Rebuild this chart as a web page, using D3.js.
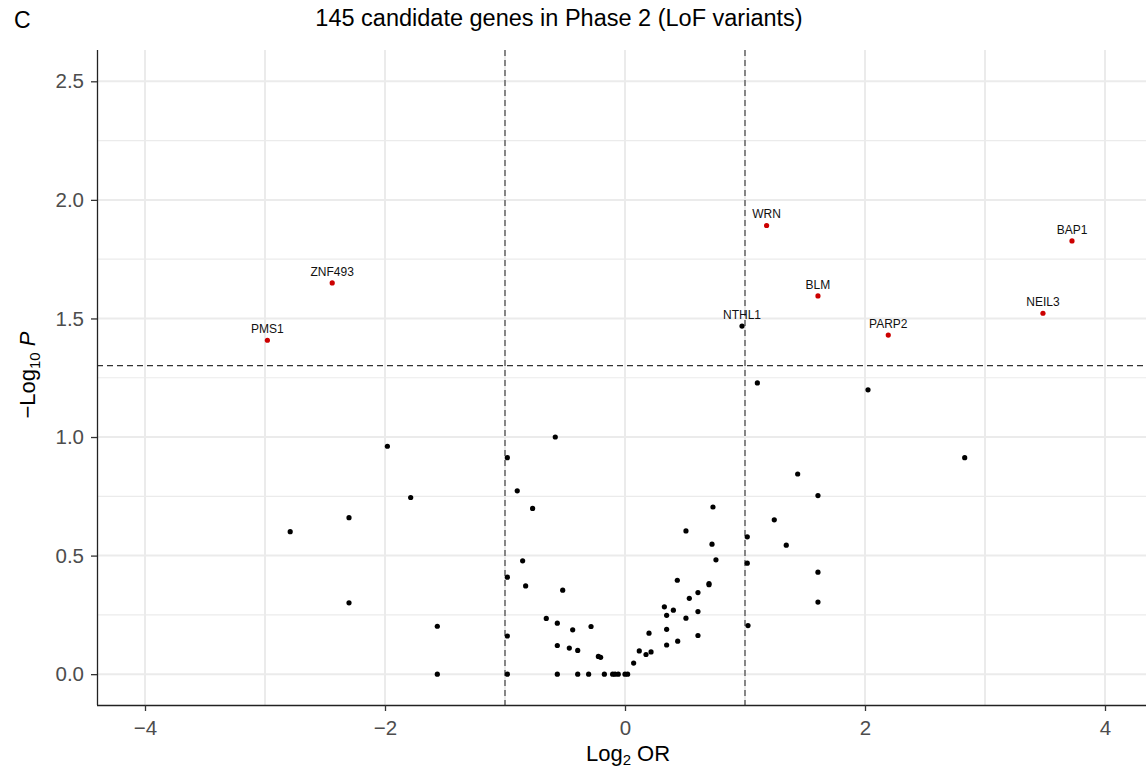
<!DOCTYPE html>
<html>
<head>
<meta charset="utf-8">
<script src="https://cdn.jsdelivr.net/npm/d3@7"></script>
<style>
  body { margin: 0; background: #fff; overflow: hidden; }
  svg { display: block; font-family: "Liberation Sans", Arial, sans-serif; }
</style>
</head>
<body>
<div id="chart"></div>
<script>
// labelled genes (log2 OR, -log10 P)
var labGenes = ["PMS1", "ZNF493", "WRN", "BAP1", "BLM", "NEIL3", "PARP2", "NTHL1"]
var labX = [-2.98, -2.44, 1.18, 3.725, 1.608, 3.483, 2.194, 0.975]
var labY = [1.408, 1.65, 1.892, 1.827, 1.595, 1.522, 1.43, 1.468]

// remaining genes
var geneX = [-1.98, -0.98, -0.898, -0.77, -1.786, -2.30, -2.79, -0.853, -0.98, -0.828,
             -2.30, -1.564, -0.98, -1.564, -0.98, -0.581, -0.519, -0.656, -0.564, -0.436,
             -0.283, -0.564, -0.464, -0.394, -0.222, -0.203, -0.564, -0.394, -0.303, -0.172,
             -0.103, -0.083, -0.056, 0.022, 0.0, 0.072, 0.119, 0.175, 0.217, 0.2,
             0.347, 0.347, 0.347, 0.328, 0.403, 0.439, 0.436, 0.508, 0.508, 0.536,
             0.608, 0.608, 0.608, 0.7, 0.7, 0.725, 0.733, 0.758, 1.019, 1.019,
             1.025, 1.244, 1.103, 2.025, 2.831, 1.439, 1.608, 1.344, 1.608, 1.608]
var geneY = [0.961, 0.913, 0.773, 0.699, 0.745, 0.660, 0.601, 0.478, 0.409, 0.372,
             0.301, 0.202, 0.161, 0.0, 0.0, 1.0, 0.354, 0.235, 0.215, 0.187,
             0.201, 0.121, 0.110, 0.100, 0.075, 0.071, 0.0, 0.0, 0.0, 0.0,
             0.0, 0.0, 0.0, 0.0, 0.0, 0.047, 0.098, 0.083, 0.094, 0.173,
             0.123, 0.189, 0.248, 0.284, 0.270, 0.139, 0.396, 0.604, 0.236, 0.320,
             0.344, 0.264, 0.163, 0.382, 0.377, 0.548, 0.705, 0.482, 0.579, 0.468,
             0.205, 0.651, 1.228, 1.199, 0.913, 0.844, 0.753, 0.544, 0.430, 0.304]

var xTicks = [-4, -2, 0, 2, 4]
var yTicks = [0, 0.5, 1, 1.5, 2, 2.5]
var orCut = 1
var pCut = -Math.log10(0.05)

var width = 1146, height = 771
var margin = {top: 50, right: -13, bottom: 66, left: 97}

var x = d3.scaleLinear().domain([-4.4, 4.45]).range([margin.left, width - margin.right])
var y = d3.scaleLinear().domain([-0.13, 2.632]).range([height - margin.bottom, margin.top])

var svg = d3.select("#chart").append("svg")
  .attr("width", width).attr("height", height)

// grid
var grid = svg.append("g").attr("stroke", "#ebebeb")
grid.selectAll(".gx").data(d3.range(-4, 5)).join("line")
  .attr("x1", d => x(d)).attr("x2", d => x(d))
  .attr("y1", margin.top).attr("y2", height - margin.bottom)
  .attr("stroke-width", 2)
grid.selectAll(".gyMin").data(d3.range(0.25, 2.7, 0.5)).join("line")
  .attr("x1", margin.left).attr("x2", width)
  .attr("y1", d => y(d)).attr("y2", d => y(d))
  .attr("stroke-width", 1.2)
grid.selectAll(".gyMaj").data(yTicks).join("line")
  .attr("x1", margin.left).attr("x2", width)
  .attr("y1", d => y(d)).attr("y2", d => y(d))
  .attr("stroke-width", 2)

// threshold lines
var thr = svg.append("g").attr("stroke", "#333").attr("stroke-width", 1.1)
  .attr("stroke-dasharray", "6,4")
thr.selectAll("line.v").data([-orCut, orCut]).join("line")
  .attr("x1", d => x(d)).attr("x2", d => x(d))
  .attr("y1", margin.top).attr("y2", height - margin.bottom)
thr.append("line")
  .attr("x1", margin.left).attr("x2", width)
  .attr("y1", y(pCut)).attr("y2", y(pCut))

// axes
var xAxis = svg.append("g")
  .attr("transform", `translate(0,${height - margin.bottom})`)
  .call(d3.axisBottom(x).tickValues(xTicks).tickSize(6).tickPadding(9).tickFormat(d3.format("d")))
var yAxis = svg.append("g")
  .attr("transform", `translate(${margin.left},0)`)
  .call(d3.axisLeft(y).tickValues(yTicks).tickSize(6).tickPadding(7).tickFormat(d3.format(".1f")))
xAxis.select(".domain").attr("stroke", "#222").attr("stroke-width", 1.3)
  .attr("d", `M${margin.left},0.5H${width}`)
yAxis.select(".domain").attr("stroke", "#222").attr("stroke-width", 1.3)
  .attr("d", `M0.5,${margin.top}V${height - margin.bottom}`)
svg.selectAll(".tick line").attr("stroke", "#333").attr("stroke-width", 1.3)
svg.selectAll(".tick text").attr("fill", "#4d4d4d").style("font-size", "20.5px")
  .style("font-family", "'Liberation Sans', Arial, sans-serif")

// points
svg.append("g").selectAll("circle").data(geneX).join("circle")
  .attr("cx", d => x(d)).attr("cy", (d, i) => y(geneY[i]))
  .attr("r", 2.6).attr("fill", "#000")

var lab = svg.append("g")
lab.selectAll("circle").data(labGenes).join("circle")
  .attr("cx", (d, i) => x(labX[i])).attr("cy", (d, i) => y(labY[i]))
  .attr("r", 2.6)
  .attr("fill", (d, i) => (Math.abs(labX[i]) > orCut && labY[i] > pCut) ? "#cc0000" : "#000")
lab.selectAll("text").data(labGenes).join("text")
  .attr("x", (d, i) => x(labX[i])).attr("y", (d, i) => y(labY[i]) - 7)
  .attr("text-anchor", "middle").style("font-size", "12px").attr("fill", "#111")
  .text(d => d)

// titles
svg.append("text").attr("x", 14).attr("y", 28).style("font-size", "23px").text("C")
svg.append("text").attr("x", 559).attr("y", 26).attr("text-anchor", "middle")
  .style("font-size", "23.5px").text("145 candidate genes in Phase 2 (LoF variants)")

var xl = svg.append("text").attr("x", 628).attr("y", 761).attr("text-anchor", "middle")
  .style("font-size", "22px")
xl.append("tspan").text("Log")
xl.append("tspan").attr("dy", 4).style("font-size", "15px").text("2")
xl.append("tspan").attr("dy", -4).text(" OR")

var yl = svg.append("text").attr("transform", "translate(35,375) rotate(-90)")
  .attr("text-anchor", "middle").style("font-size", "22px")
yl.append("tspan").text("\u2212Log")
yl.append("tspan").attr("dy", 5).style("font-size", "15px").text("10")
yl.append("tspan").attr("dy", -5).style("font-style", "italic").text(" P")
</script>
</body>
</html>
